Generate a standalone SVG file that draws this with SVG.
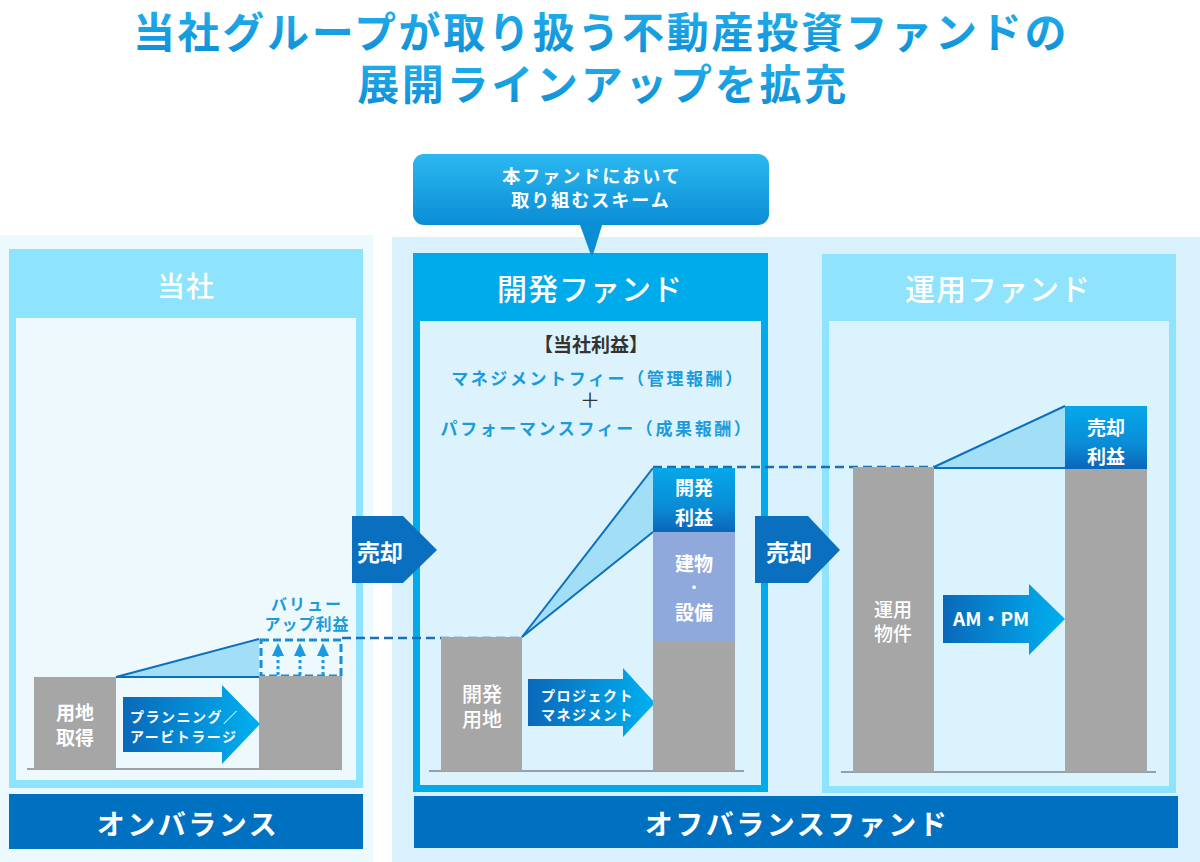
<svg xmlns="http://www.w3.org/2000/svg" width="1200" height="862" viewBox="0 0 1200 862">
  <defs>
    <linearGradient id="gTitle" x1="0" y1="0" x2="0" y2="1">
      <stop offset="0" stop-color="#25b6f1"/>
      <stop offset="1" stop-color="#0b8bd5"/>
    </linearGradient>
    <linearGradient id="gBubble" x1="0" y1="0" x2="0" y2="1">
      <stop offset="0" stop-color="#2cb8f0"/>
      <stop offset="1" stop-color="#0a8dd5"/>
    </linearGradient>
    <linearGradient id="gProfit" x1="0" y1="0" x2="0" y2="1">
      <stop offset="0" stop-color="#05a8ea"/>
      <stop offset="0.6" stop-color="#0a8cd6"/>
      <stop offset="1" stop-color="#0a66ba"/>
    </linearGradient>
    <linearGradient id="gArrow" x1="0" y1="0" x2="1" y2="0">
      <stop offset="0" stop-color="#0a68ba"/>
      <stop offset="1" stop-color="#00b0f0"/>
    </linearGradient>
    <style>
      text { font-family: "Noto Sans CJK JP", "Noto Sans", sans-serif; }
      .title { font-size: 42px; font-weight: 700; fill: url(#gTitle); letter-spacing: 2.7px; text-anchor: middle; }
      .hdr { font-size: 30px; font-weight: 500; fill: #ffffff; text-anchor: middle; letter-spacing: 1px; }
      .foot { font-size: 28px; font-weight: 700; fill: #ffffff; text-anchor: middle; letter-spacing: 2.5px; }
      .bar { fill: #a6a6a6; }
      .ground { stroke: #7f8590; stroke-width: 1.5; }
      .barTxt { font-size: 19px; font-weight: 700; fill: #ffffff; text-anchor: middle; }
      .arrTxt { font-size: 14px; font-weight: 700; fill: #ffffff; letter-spacing: 1.5px; }
      .sell { fill: #0b6fc0; }
      .sellTxt { font-size: 22px; font-weight: 700; fill: #ffffff; }
      .tri { fill: #a2dff6; }
      .triLine { stroke: #0a6fbf; stroke-width: 2; fill: none; }
      .dash { stroke: #1a6fb8; stroke-width: 2.5; stroke-dasharray: 9 5; fill: none; }
      .blueTxt { font-size: 17px; font-weight: 700; fill: #1b9bdc; text-anchor: middle; letter-spacing: 2.6px; }
    </style>
  </defs>

  <rect width="1200" height="862" fill="#ffffff"/>

  <!-- Title -->
  <g id="title">
    <text class="title" x="601" y="48">当社グループが取り扱う不動産投資ファンドの</text>
    <text class="title" x="603" y="100">展開ラインアップを拡充</text>
  </g>

  <!-- Backgrounds -->
  <rect x="0" y="235" width="373" height="627" fill="#ecf9fe"/>
  <rect x="392" y="237" width="808" height="625" fill="#d9f1fc"/>

  <!-- 当社 panel -->
  <g id="panel-tosha">
    <rect x="9" y="249" width="354" height="539" fill="#8ee3fd"/>
    <rect x="16" y="318" width="340" height="462" fill="#eef9fe"/>
    <text class="hdr" x="186" y="297" style="font-size:28px">当社</text>
  </g>

  <!-- 開発ファンド panel -->
  <g id="panel-dev">
    <rect x="413" y="253" width="355" height="539" fill="#00abeb"/>
    <rect x="420" y="321" width="341" height="464" fill="#dcf3fd"/>
    <text class="hdr" x="590" y="300">開発ファンド</text>
    <text x="591" y="352" style="font-size:19px;font-weight:700;fill:#333333;text-anchor:middle">【当社利益】</text>
    <text class="blueTxt" x="598" y="385">マネジメントフィー（管理報酬）</text>
    <text x="590" y="408" style="font-size:20px;font-weight:400;fill:#333333;text-anchor:middle">＋</text>
    <text class="blueTxt" x="597" y="435">パフォーマンスフィー（成果報酬）</text>
  </g>

  <!-- 運用ファンド panel -->
  <g id="panel-op">
    <rect x="822" y="254" width="354" height="539" fill="#8fe3fd"/>
    <rect x="829" y="321" width="340" height="465" fill="#dbf3fd"/>
    <text class="hdr" x="998" y="300">運用ファンド</text>
  </g>

  <!-- Callout -->
  <g id="callout">
    <path d="M579,222 L603,222 L592,258 Z" fill="#0a8dd5"/>
    <rect x="413" y="154" width="356" height="71" rx="11" fill="url(#gBubble)"/>
    <text x="592" y="183" style="font-size:18px;font-weight:700;fill:#ffffff;text-anchor:middle;letter-spacing:2px">本ファンドにおいて</text>
    <text x="591" y="207" style="font-size:18px;font-weight:700;fill:#ffffff;text-anchor:middle;letter-spacing:2px">取り組むスキーム</text>
  </g>

  <!-- Bottom bars -->
  <g id="onbalance">
    <rect x="9" y="794" width="354" height="55" fill="#0070c0"/>
    <text class="foot" x="188" y="835">オンバランス</text>
  </g>
  <g id="offbalance">
    <rect x="414" y="796" width="764" height="52" fill="#0070c0"/>
    <text class="foot" x="797" y="835">オフバランスファンド</text>
  </g>

  <!-- Connectors / guide lines -->
  <g id="connectors">
    <path class="tri" d="M116,677 L259,639 L259,677 Z"/>
    <path class="triLine" d="M116,677 L259,639"/>
    <path class="triLine" d="M116,677 L259,677"/>
    <path class="tri" d="M522,637 L653,468 L653,532 Z"/>
    <path class="triLine" d="M522,637 L653,468"/>
    <path class="triLine" d="M522,637 L653,532"/>
    <path class="tri" d="M934,467 L1065,406 L1065,469 Z"/>
    <path class="triLine" d="M934,467 L1065,406"/>
    <path class="triLine" d="M934,468 L1065,468"/>
    <path class="dash" d="M342,638 L522,638"/>
    <path class="dash" d="M653,467 L934,467"/>
    <rect x="261" y="640" width="80" height="36" fill="none" stroke="#1a8cd8" stroke-width="3" stroke-dasharray="8 4"/>
    <g stroke="#1a9ae0" stroke-width="3" stroke-dasharray="3 3">
      <line x1="278" y1="675" x2="278" y2="655"/>
      <line x1="300" y1="675" x2="300" y2="655"/>
      <line x1="323" y1="675" x2="323" y2="655"/>
    </g>
    <g fill="#1a9ae0">
      <path d="M272,656 L278,643 L284,656 Z"/>
      <path d="M294,656 L300,643 L306,656 Z"/>
      <path d="M317,656 L323,643 L329,656 Z"/>
    </g>
    <line class="ground" x1="27" y1="769" x2="342" y2="769"/>
    <line class="ground" x1="429" y1="771" x2="744" y2="771"/>
    <line class="ground" x1="841" y1="772" x2="1156" y2="772"/>
  </g>

  <!-- Left panel nodes -->
  <g id="node-land">
    <rect class="bar" x="34" y="677" width="82" height="92"/>
    <text class="barTxt" x="75" y="720">用地</text>
    <text class="barTxt" x="75" y="745">取得</text>
  </g>
  <g id="node-land-after">
    <rect class="bar" x="259" y="676" width="83" height="93"/>
  </g>
  <g id="value-up-label">
    <text x="307" y="610" style="font-size:16px;font-weight:700;fill:#1b9bdc;text-anchor:middle;letter-spacing:2px">バリュー</text>
    <text x="307" y="630" style="font-size:16px;font-weight:700;fill:#1b9bdc;text-anchor:middle;letter-spacing:1px">アップ利益</text>
  </g>
  <g id="arrow-planning">
    <path d="M123,697 L222,697 L222,685 L260,724 L222,764 L222,752 L123,752 Z" fill="url(#gArrow)"/>
    <text class="arrTxt" x="130" y="722">プランニング／</text>
    <text class="arrTxt" x="130" y="742">アービトラージ</text>
  </g>

  <!-- Sell arrows -->
  <g id="sell-1">
    <path class="sell" d="M352,516 L403,516 L437,550 L403,583 L352,583 Z"/>
    <text class="sellTxt" x="357" y="561" style="font-size:23px">売却</text>
  </g>
  <g id="sell-2">
    <path class="sell" d="M755,516 L808,516 L840,550 L808,583 L755,583 Z"/>
    <text class="sellTxt" x="766" y="561" style="font-size:23px">売却</text>
  </g>

  <!-- Middle panel nodes -->
  <g id="node-devland">
    <rect class="bar" x="441" y="637" width="81" height="134"/>
    <text class="barTxt" x="482" y="702" style="font-size:20px;font-weight:500">開発</text>
    <text class="barTxt" x="482" y="727" style="font-size:20px;font-weight:500">用地</text>
  </g>
  <g id="arrow-pm">
    <path d="M528,679 L623,679 L623,668 L655,703 L623,737 L623,726 L528,726 Z" fill="url(#gArrow)"/>
    <text class="arrTxt" x="541" y="701">プロジェクト</text>
    <text class="arrTxt" x="541" y="720">マネジメント</text>
  </g>
  <g id="node-devbuilt">
    <rect class="bar" x="653" y="641" width="82" height="130"/>
    <rect x="653" y="532" width="82" height="109" fill="#8fa9dc"/>
    <rect x="653" y="468" width="82" height="64" fill="url(#gProfit)"/>
    <text class="barTxt" x="694" y="495">開発</text>
    <text class="barTxt" x="694" y="525">利益</text>
    <text class="barTxt" x="694" y="571">建物</text>
    <text class="barTxt" x="694" y="592" style="font-size:14px">・</text>
    <text class="barTxt" x="694" y="620">設備</text>
  </g>

  <!-- Right panel nodes -->
  <g id="node-opprop">
    <rect class="bar" x="853" y="467" width="81" height="305"/>
    <text class="barTxt" x="893" y="617" style="font-size:19px;font-weight:500">運用</text>
    <text class="barTxt" x="893" y="641" style="font-size:19px;font-weight:500">物件</text>
  </g>
  <g id="arrow-ampm">
    <path d="M943,595 L1029,595 L1029,584 L1065,619 L1029,655 L1029,643 L943,643 Z" fill="url(#gArrow)"/>
    <text x="953" y="626" style="font-size:19px;font-weight:700;fill:#ffffff">AM・PM</text>
  </g>
  <g id="node-sold">
    <rect class="bar" x="1065" y="469" width="82" height="303"/>
    <rect x="1065" y="406" width="82" height="63" fill="url(#gProfit)"/>
    <text class="barTxt" x="1106" y="435">売却</text>
    <text class="barTxt" x="1106" y="464">利益</text>
  </g>
</svg>
